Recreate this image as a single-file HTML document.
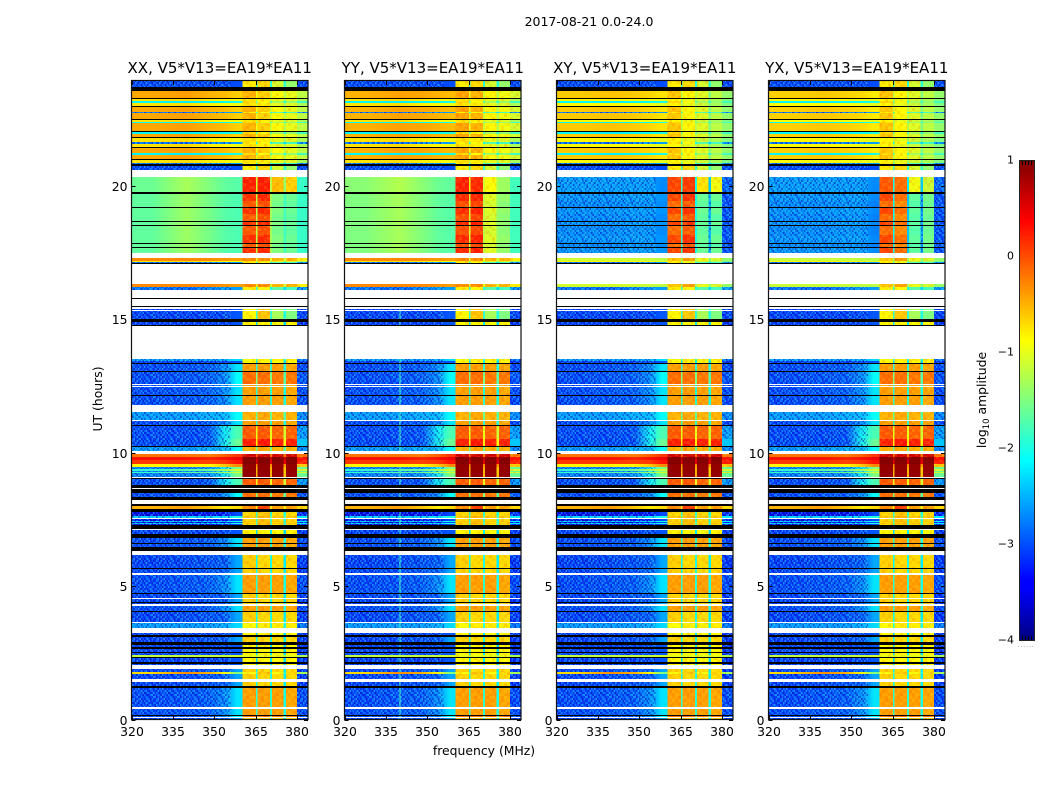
<!DOCTYPE html>
<html lang="en">
<head>
<meta charset="utf-8">
<title>2017-08-21 0.0-24.0</title>
<style>
html,body{margin:0;padding:0;background:#fff;width:1050px;height:800px;overflow:hidden}
svg{display:block}
text{font-family:"DejaVu Sans","Liberation Sans",sans-serif;fill:#000}
.tick{font-size:12.4px}
.ttl{font-size:15px}
</style>
</head>
<body>
<svg id="chart" width="1050" height="800" viewBox="0 0 1050 800" xmlns="http://www.w3.org/2000/svg">
  <defs id="defs">
    <linearGradient id="jet" x1="0" y1="1" x2="0" y2="0">
      <stop offset="0" stop-color="#00007f"/>
      <stop offset="0.11" stop-color="#0000ff"/>
      <stop offset="0.125" stop-color="#0000ff"/>
      <stop offset="0.375" stop-color="#00ffff"/>
      <stop offset="0.5" stop-color="#7fff7f"/>
      <stop offset="0.625" stop-color="#ffff00"/>
      <stop offset="0.875" stop-color="#ff0000"/>
      <stop offset="1" stop-color="#7f0000"/>
    </linearGradient>
    <pattern id="speckle" patternUnits="userSpaceOnUse" width="24" height="20"></pattern>
    <pattern id="mottle" patternUnits="userSpaceOnUse" width="48" height="30"></pattern>
  </defs>
  <text x="589" y="26" text-anchor="middle" class="tick" style="font-size:12.5px">2017-08-21 0.0-24.0</text>
  <text x="484" y="755" text-anchor="middle" class="tick">frequency (MHz)</text>
  <text transform="translate(102,399) rotate(-90)" text-anchor="middle" class="tick">UT (hours)</text>
  <g id="panels"></g>
  <g id="colorbar">
    <rect x="1019.5" y="160.5" width="15" height="480" fill="url(#jet)" stroke="#222" stroke-width="1"/>
    <text transform="translate(986,400) rotate(-90)" text-anchor="middle" class="tick">log<tspan font-size="8.5" dy="3">10</tspan><tspan dy="-3"> amplitude</tspan></text>
    <text x="1026" y="647" text-anchor="middle" style="font-size:7px;fill:#999;letter-spacing:0.6px">......</text>
  </g>
</svg>
<script>
// Frequency segment edges (MHz) and axis tick values
const freqEdges = [320,335,345,352,356,360.3,365.2,365.7,370.2,370.9,375.2,376,380,384];
const xTicks = [320,335,350,365,380];
const yTicks = [0,5,10,15,20];
const colorTicks = [1,0,-1,-2,-3,-4];
const panelNames = ['XX','YY','XY','YX'];
const titleSuffix = ', V5*V13=EA19*EA11';
// Narrow interference line seen in the YY panel (MHz, log10 amplitude)
const rfiFreqYY = [339.9];
const rfiLevelYY = [-1.8];

// Time bands, bottom to top: [upper edge in UT hours, kind of spectrum]
const bands = [
[0.07,'n1'],[0.10,'w'],[0.13,'n3'],[0.16,'k'],[0.41,'n2'],[0.46,'w'],[1.19,'n2'],[1.25,'k'],[1.41,'n1'],[1.51,'w'],
[1.71,'n1'],[1.77,'ln'],[1.90,'n1'],[2.04,'w'],[2.09,'n'],[2.17,'k'],[2.29,'n'],[2.34,'k'],[2.40,'yg'],[2.49,'n'],
[2.53,'k'],[2.66,'n'],[2.71,'k'],[2.81,'n'],[2.89,'k'],[3.11,'n1'],[3.15,'k'],[3.25,'n'],[3.43,'w'],[3.61,'lb'],
[3.65,'w'],[4.04,'n1'],[4.06,'k'],[4.27,'n2'],[4.34,'w'],[4.39,'n1'],[4.42,'k'],[4.50,'n1'],[4.55,'w'],[4.72,'n1'],
[4.74,'k'],[5.40,'n2'],[5.49,'w'],[5.67,'n1'],[5.69,'k'],[6.15,'n1'],[6.32,'w'],[6.47,'k'],[6.59,'n2'],[6.62,'k'],
[6.82,'n2'],[6.94,'k'],[7.02,'n'],[7.09,'n'],[7.16,'w'],[7.28,'k'],[7.33,'d'],[7.37,'cy'],[7.42,'d'],[7.46,'cy'],
[7.53,'d'],[7.57,'w'],[7.63,'cy'],[7.70,'d'],[7.79,'d'],[7.91,'k'],[8.00,'rl'],[8.07,'k'],[8.22,'w'],[8.33,'k'],
[8.49,'n3'],[8.64,'k'],[8.68,'w'],[8.78,'k'],[9.03,'n4'],[9.07,'k'],[9.10,'w'],[9.23,'m'],[9.27,'yl'],[9.33,'m'],
[9.38,'yl'],[9.47,'m'],[9.58,'r3'],[9.72,'r1'],[9.86,'r2'],[9.97,'r4'],[10.07,'w'],[10.21,'lb2'],[10.27,'k'],[10.50,'n5'],
[11.01,'n4'],[11.03,'k'],[11.19,'n2'],[11.22,'w'],[11.52,'lb2'],[11.78,'w'],[12.12,'n2'],[12.15,'k'],[12.47,'n2'],[12.50,'w'],
[12.56,'n2'],[12.59,'w'],[13.03,'n3'],[13.06,'k'],[13.32,'n2'],[13.37,'k'],[13.44,'n'],[13.50,'lb'],[14.76,'w'],[14.79,'k'],
[14.92,'n'],[15.00,'k'],[15.32,'nf'],[15.35,'w'],[15.41,'nf'],[15.47,'w'],[15.52,'k'],[15.75,'w'],[15.79,'k'],[16.10,'w'],
[16.20,'b'],[16.22,'w'],[16.32,'s'],[17.06,'w'],[17.10,'k'],[17.16,'b'],[17.20,'y'],[17.29,'s'],[17.50,'w'],[17.67,'g1'],
[17.70,'k'],[17.82,'g2'],[17.85,'k'],[18.15,'g1'],[18.50,'g2'],[18.53,'k'],[18.65,'g1'],[18.68,'k'],[18.95,'g2'],[19.17,'g1'],
[19.20,'k'],[19.45,'g2'],[19.69,'g1'],[19.79,'k'],[20.35,'gt'],[20.60,'w'],[20.75,'t'],[20.85,'k'],[20.87,'b'],[20.98,'y'],
[21.00,'k'],[21.16,'o'],[21.25,'c'],[21.41,'o'],[21.45,'k'],[21.58,'y'],[21.66,'b'],[21.79,'y'],[21.83,'k'],[21.95,'o'],
[22.03,'c'],[22.05,'k'],[22.35,'o'],[22.41,'c'],[22.48,'y'],[22.50,'k'],[22.73,'o'],[22.79,'b'],[22.98,'o'],[23.00,'k'],
[23.10,'y'],[23.20,'c'],[23.27,'y'],[23.29,'k'],[23.58,'o'],[23.63,'k'],[23.65,'w'],[23.70,'k'],[23.94,'t']
];

// log10 amplitude per frequency segment, for each spectrum kind
const baseKinds = {
n:  [-3.1,-3.1,-3.1,-3.05,-2.95,-0.85,-2.3,-0.85,-2.2,-0.9,-2.3,-0.85,-3.15],
n1: [-3.1,-3.05,-3.0,-2.95,-2.55,-0.65,-2.1,-0.7,-2.0,-0.7,-2.2,-0.7,-3.15],
n2: [-3.05,-3.0,-2.95,-2.7,-2.25,-0.4,-1.9,-0.4,-1.9,-0.4,-2.0,-0.45,-3.05],
n3: [-3.05,-3.0,-2.95,-2.7,-2.1,-0.15,-1.5,-0.15,-1.5,-0.2,-1.7,-0.2,-3.0],
n4: [-3.05,-3.05,-3.0,-2.05,-1.75,-0.05,-1.0,-0.05,-1.0,-0.1,-1.1,-0.1,-2.6],
n5: [-3.05,-3.05,-3.0,-2.0,-1.6,0.25,-0.8,0.3,-0.8,0.25,-0.9,0.25,-2.4],
nf: [-3.1,-3.1,-3.1,-3.05,-2.95,-0.85,-1.9,-0.6,-1.9,-1.3,-2.0,-1.5,-3.1],
lb: [-2.6,-2.6,-2.6,-2.5,-2.3,-0.9,-1.9,-0.8,-1.9,-0.8,-2.0,-0.8,-2.8],
lb2:[-2.6,-2.6,-2.5,-2.45,-2.1,-0.5,-1.6,-0.45,-1.6,-0.5,-1.7,-0.5,-2.7],
ln: [-0.7,-0.3,-0.5,-0.9,-1.5,-0.9,-1.7,-0.6,-1.7,-0.9,-2.0,-0.7,-1.3],
yg: [-1.2,-1.2,-1.2,-1.2,-1.1,-1.0,-1.3,-1.0,-1.3,-1.0,-1.4,-1.0,-1.3],
d:  [-3.5,-3.5,-3.45,-3.3,-3.0,-0.7,-1.9,-0.6,-1.9,-0.7,-2.0,-0.7,-3.2],
cy: [-2.3,-2.3,-2.3,-2.2,-2.0,-0.6,-1.6,-0.5,-1.6,-0.6,-1.7,-0.6,-2.2],
rl: [-0.5,-0.4,-0.6,-0.8,-0.7,-0.3,-0.8,0.1,-0.8,-0.4,-0.8,-0.4,-0.7],
m:  [-2.75,-2.75,-2.65,-2.0,-1.5,0.9,-0.5,0.9,-0.5,0.9,-0.6,0.9,-1.6],
yl: [-1.9,-1.7,-1.6,-1.3,-1.1,0.9,-0.5,0.9,-0.5,0.9,-0.6,0.9,-1.1],
r1: [0.1,0.1,0.05,0.1,0.3,0.97,0.5,0.97,0.5,0.97,0.5,0.97,0.25],
r2: [0.3,0.3,0.2,0.3,0.45,0.97,0.6,0.97,0.6,0.97,0.6,0.97,0.35],
r3: [-0.85,-0.85,-0.85,-0.6,-0.3,0.9,-0.3,0.9,-0.3,0.9,-0.3,0.9,-0.6],
r4: [-0.2,-0.2,-0.25,-0.1,0.1,0.6,-0.2,0.6,-0.2,0.6,-0.2,0.6,-0.2],
o:  [-0.45,-0.4,-0.5,-0.55,-0.65,-0.5,-0.95,-0.65,-1.1,-0.9,-1.2,-1.0,-1.2],
s:  [-0.3,-0.3,-0.3,-0.35,-0.4,-0.3,-1.0,-0.3,-1.0,-0.5,-1.1,-0.5,-0.8],
y:  [-0.75,-0.7,-0.8,-0.85,-0.95,-0.75,-1.1,-0.8,-1.1,-1.0,-1.3,-1.05,-1.3],
c:  [-2.15,-2.2,-2.15,-2.1,-2.0,-0.7,-1.7,-0.9,-1.7,-1.3,-1.9,-1.4,-1.8],
b:  [-2.8,-2.9,-2.7,-2.6,-2.6,-0.8,-2.0,-0.9,-2.0,-1.7,-2.3,-1.8,-2.6],
t:  [-3.05,-3.05,-3.05,-3.05,-3.0,-0.8,-1.9,-0.7,-1.9,-1.1,-1.9,-1.4,-3.05],
g1: [-1.65,-1.35,-1.55,-1.7,-1.75,0.15,-1.2,0.2,-1.3,-1.5,-1.8,-1.6,-1.85],
g2: [-1.65,-1.35,-1.55,-1.7,-1.75,-0.05,-1.2,0.0,-1.3,-1.55,-1.8,-1.65,-1.85],
gt: [-1.6,-1.3,-1.5,-1.65,-1.7,0.25,-1.1,0.25,-1.2,-0.55,-1.4,-0.65,-1.85]
};
const kindsYY = {
g1: [-1.5,-1.3,-1.5,-1.65,-1.7,0.2,-1.1,0.25,-1.2,-1.05,-1.4,-1.4,-1.8],
g2: [-1.5,-1.3,-1.5,-1.65,-1.7,0.0,-1.1,0.05,-1.2,-1.1,-1.4,-1.45,-1.8],
gt: [-1.45,-1.25,-1.45,-1.6,-1.65,0.25,-1.0,0.2,-1.1,-0.9,-1.3,-1.35,-1.8],
o:  [-0.5,-0.42,-0.45,-0.5,-0.55,-0.42,-0.95,-0.5,-1.1,-0.85,-1.2,-0.95,-1.1]
};
const kindsXY = {
g1: [-2.65,-2.65,-2.6,-2.6,-2.65,0.05,-1.9,0.15,-2.0,-1.6,-2.5,-1.6,-3.0],
g2: [-2.7,-2.7,-2.65,-2.65,-2.7,-0.15,-1.9,-0.05,-2.0,-1.65,-2.5,-1.7,-3.0],
gt: [-2.6,-2.6,-2.6,-2.6,-2.7,0.05,-1.9,0.1,-2.0,-0.75,-2.4,-0.95,-2.9],
o:  [-0.62,-0.58,-0.62,-0.68,-0.75,-0.6,-1.2,-0.85,-1.2,-1.05,-1.5,-1.2,-1.4],
y:  [-0.85,-0.85,-0.9,-0.95,-1.0,-0.85,-1.3,-1.0,-1.3,-1.15,-1.5,-1.3,-1.5],
s:  [-1.1,-1.1,-1.1,-1.15,-1.2,-0.6,-1.3,-0.4,-1.3,-1.0,-1.4,-1.1,-1.4]
};
const kindsYX = {
g1: [-2.65,-2.65,-2.6,-2.6,-2.7,0.05,-2.1,-0.15,-2.4,-1.65,-2.6,-1.55,-3.0],
g2: [-2.7,-2.7,-2.65,-2.65,-2.75,-0.15,-2.1,-0.3,-2.4,-1.7,-2.6,-1.6,-3.0],
gt: [-2.6,-2.6,-2.6,-2.6,-2.7,-0.05,-2.0,-0.15,-2.2,-0.95,-2.4,-1.15,-2.9],
o:  [-0.65,-0.6,-0.65,-0.7,-0.78,-0.6,-1.2,-0.85,-1.2,-1.05,-1.5,-1.2,-1.4],
y:  [-0.88,-0.85,-0.9,-0.95,-1.0,-0.85,-1.3,-1.0,-1.3,-1.15,-1.5,-1.3,-1.5],
s:  [-1.15,-1.15,-1.15,-1.2,-1.2,-0.6,-1.3,-0.4,-1.3,-1.0,-1.4,-1.1,-1.4]
};
const panelKindOverrides = [{}, kindsYY, kindsXY, kindsYX];

// Fine residual texture (16 columns × 10 rows)
const speckle = [
 2,-1, 0, 3,-2, 1,-3, 0, 2, 1,-2, 3, 0,-1, 2,-3,
-2, 3, 1,-1, 0,-3, 2, 1,-1,-2, 3, 0,-3, 2, 1, 0,
 0, 1,-3, 2, 3,-1, 0,-2, 3, 0, 1,-2, 2, 0,-3, 2,
 3,-2, 2, 0,-1, 2, 1,-3, 0, 2,-1, 1,-2, 3, 0,-1,
-1, 0,-2, 1, 3, 0,-2, 2, 1,-3, 2, 0, 3,-1,-2, 1,
 1, 3, 0,-3, 1, 2,-1, 0,-2, 3, 0, 2,-1, 1, 3,-2,
-3, 0, 2, 1,-2, 0, 3,-1, 2, 0,-3, 1, 0, 2,-1, 3,
 2,-1,-3, 0, 2, 3,-2, 1,-1, 2, 1,-3, 3, 0, 1,-2,
 0, 2, 1,-2, 0,-1, 3, 2,-3, 1, 0, 3,-2,-1, 2, 0,
-2, 1, 3, 0,-3, 2, 0,-1, 1, 3,-2, 0, 1, 3,-3, 1
];

// Layout of the figure
const panelLefts = [131.5,344.5,556.5,768.5];
const panelWidth = 176.5;
const plotTop = 81;
const plotBottom = 719.5;
const xMin = 320, xMax = 384, yMin = 0, yMax = 23.94;
const colorMin = -4, colorMax = 1;
const smoothSegments = 5;
const NS = 'http://www.w3.org/2000/svg';

function xScale(f, left){ return left + (f - xMin) / (xMax - xMin) * panelWidth; }
function yScale(h){ return plotBottom - (h - yMin) / (yMax - yMin) * (plotBottom - plotTop); }
function clamp01(v){ return Math.max(0, Math.min(1, v)); }
function jet(v){
  const t = clamp01((v - colorMin) / (colorMax - colorMin));
  const r = clamp01(Math.min(4 * t - 1.5, -4 * t + 4.5));
  const g = clamp01(Math.min(4 * t - 0.5, -4 * t + 3.5));
  const b = clamp01(Math.min(4 * t + 0.5, -4 * t + 2.5));
  return 'rgb(' + Math.round(r * 255) + ',' + Math.round(g * 255) + ',' + Math.round(b * 255) + ')';
}
function svgEl(tag, attrs, parent){
  const e = document.createElementNS(NS, tag);
  for (const k in attrs) e.setAttribute(k, attrs[k]);
  parent.appendChild(e);
  return e;
}

// Speckle tile for the noise floor and coarser mottling tile for the bright sub-bands
const tile = document.getElementById('speckle');
const mottleTile = document.getElementById('mottle');
speckle.forEach(function(v, i){
  if (v === 0) return;
  const col = i % 16, row = Math.floor(i / 16);
  const cell = svgEl('rect', {x: col * 1.5, y: row * 2, width: 1.5, height: 2,
    fill: v > 0 ? '#2fd0ff' : '#0004b0', 'fill-opacity': Math.abs(v) * 0.18}, tile);
  
  
  const warm = svgEl('rect', {x: col * 3, y: row * 3, width: 3, height: 3,
    fill: v > 0 ? '#ffff30' : '#ff3000', 'fill-opacity': Math.abs(v) * 0.05}, mottleTile);
  
  
});

// Smooth colour ramp across the continuous low-frequency part of one spectrum
const defs = document.getElementById('defs');
const rampCache = {};
function lowRamp(values){
  const key = values.slice(0, smoothSegments).join('_');
  if (rampCache[key]) return rampCache[key];
  const id = 'ramp' + Object.keys(rampCache).length;
  const grad = svgEl('linearGradient', {id: id, x1: 0, x2: 1, y1: 0, y2: 0}, defs);
  const start = freqEdges[0], span = freqEdges[smoothSegments] - start;
  for (let s = 0; s < smoothSegments; s++) {
    const centre = (freqEdges[s] + freqEdges[s + 1]) / 2;
    svgEl('stop', {offset: (centre - start) / span, 'stop-color': jet(values[s])}, grad);
  }
  rampCache[key] = 'url(#' + id + ')';
  return rampCache[key];
}

const panelsGroup = document.getElementById('panels');
panelNames.forEach(function(name, p){
  const left = panelLefts[p];
  const group = svgEl('g', {}, panelsGroup);
  
  

  const heat = svgEl('g', {'shape-rendering': 'crispEdges'}, group);
  
  

  const overrides = panelKindOverrides[p];
  let lower = 0;
  bands.forEach(function(band){
    const upper = band[0], kind = band[1];
    const y0 = Math.round(yScale(upper)), y1 = Math.round(yScale(lower));
    const h = Math.max(1, y1 - y0);
    lower = upper;
    if (kind === 'w') return;
    if (kind === 'k') {
      const line = svgEl('rect', {x: left, y: y0, width: panelWidth, height: h, fill: '#000'}, heat);
      
      
      return;
    }
    const values = overrides[kind] || baseKinds[kind];
    const lowX1 = xScale(freqEdges[smoothSegments], left);
    const lowCell = svgEl('rect', {x: left, y: y0, width: lowX1 - left, height: h, fill: lowRamp(values)}, heat);
    
    
    if (values[0] < -2.2) {
      const lowNoise = svgEl('rect', {x: left, y: y0, width: xScale(freqEdges[4], left) - left, height: h, fill: 'url(#speckle)'}, heat);
      
      
    }
    for (let s = smoothSegments; s < values.length; s++) {
      const x0 = xScale(freqEdges[s], left), x1 = xScale(freqEdges[s + 1], left);
      const cell = svgEl('rect', {x: x0, y: y0, width: x1 - x0, height: h, fill: jet(values[s])}, heat);
      
      
      if (values[s] < -2.4) {
        const noise = svgEl('rect', {x: x0, y: y0, width: x1 - x0, height: h, fill: 'url(#speckle)'}, heat);
        
        
      } else if (values[s] > -1.2 && values[s] < 0.7 && x1 - x0 > 5) {
        const warm = svgEl('rect', {x: x0, y: y0, width: x1 - x0, height: h, fill: 'url(#mottle)'}, heat);
        
        
      }
    }
    if (name === 'YY' && upper < 15.5 && values[0] < -2.2) {
      rfiFreqYY.forEach(function(f, i){
        const rfi = svgEl('rect', {x: xScale(f, left), y: y0, width: 1, height: h, fill: jet(rfiLevelYY[i])}, heat);
        
        
      });
    }
  });

  const frame = svgEl('rect', {x: left, y: plotTop - 0.5, width: panelWidth, height: plotBottom - plotTop + 0.5,
    fill: 'none', stroke: '#111', 'stroke-width': 1.2}, group);
  
  

  xTicks.forEach(function(tv){
    const x = Math.round(xScale(tv, left)) + 0.5;
    const t1 = svgEl('line', {x1: x, x2: x, y1: plotBottom, y2: plotBottom - 4, stroke: '#000'}, group);
    
    
    const t2 = svgEl('line', {x1: x, x2: x, y1: plotTop, y2: plotTop + 4, stroke: '#000'}, group);
    
    
    const lab = svgEl('text', {x: x - 0.5, y: 736, 'text-anchor': 'middle', class: 'tick'}, group);
    lab.textContent = tv;
    
    
  });
  yTicks.forEach(function(tv){
    const y = Math.round(yScale(tv)) + 0.5;
    const t1 = svgEl('line', {x1: left, x2: left + 4, y1: y, y2: y, stroke: '#000'}, group);
    
    
    const t2 = svgEl('line', {x1: left + panelWidth, x2: left + panelWidth - 4, y1: y, y2: y, stroke: '#000'}, group);
    
    
    const lab = svgEl('text', {x: left - 4, y: y + 4.5, 'text-anchor': 'end', class: 'tick'}, group);
    lab.textContent = tv;
    
    
  });
  const title = svgEl('text', {x: left + panelWidth / 2, y: 73, 'text-anchor': 'middle', class: 'ttl'}, group);
  title.textContent = name + titleSuffix;
  
  
});

// Colorbar ticks and labels
const barGroup = document.getElementById('colorbar');
function barY(v){ return 160.5 + (colorMax - v) / (colorMax - colorMin) * 480; }
colorTicks.forEach(function(v){
  const lab = svgEl('text', {x: 1014, y: barY(v) + 3, 'text-anchor': 'end', class: 'tick', style: 'font-size:11px'}, barGroup);
  lab.textContent = v < 0 ? '\u2212' + Math.abs(v) : String(v);
  
  
});
[1022.5,1025.5,1028.5,1031.5].forEach(function(x){
  const top = svgEl('line', {x1: x, x2: x, y1: 161, y2: 165, stroke: '#000'}, barGroup);
  
  
  const bottom = svgEl('line', {x1: x, x2: x, y1: 640, y2: 636, stroke: '#000'}, barGroup);
  
  
});
</script>
</body>
</html>
